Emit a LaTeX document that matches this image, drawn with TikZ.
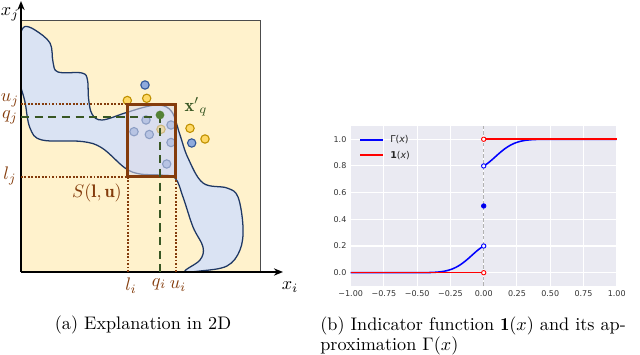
\documentclass[tikz,border=0pt]{standalone}
\usepackage{amsmath}
\usepackage{fontspec}
\newfontfamily\plotfont{DejaVu Sans}
\usepackage{tikz}
\usetikzlibrary{arrows.meta, positioning, calc}

\definecolor{bgyellow}{RGB}{255,242,204}
\definecolor{blobfill}{RGB}{218,227,243}
\definecolor{blobline}{RGB}{31,56,100}
\definecolor{sbrown}{RGB}{132,60,12}
\definecolor{qgreen}{RGB}{56,87,35}
\definecolor{ptgreen}{RGB}{84,130,53}
\definecolor{ptyellow}{RGB}{255,217,102}
\definecolor{ptyellowln}{RGB}{191,144,0}
\definecolor{ptblue}{RGB}{143,170,220}
\definecolor{ptblueln}{RGB}{47,85,151}
\definecolor{sbbg}{RGB}{234,234,242}
\definecolor{boxfill}{RGB}{218,218,234}

\begin{document}
\begin{tikzpicture}[
    x=0.55pt, y=-0.55pt,
    every node/.style={inner sep=0pt},
    axisln/.style={line width=1.1pt, -{Stealth[length=5pt,width=4pt]}},
    lbl/.style={font=\fontsize{10}{12}\selectfont},
    sbox/.style={draw=sbrown, line width=1.4pt, fill=boxfill, fill opacity=0.55, minimum width=26.4pt, minimum height=39.8pt},
    sdot/.style={sbrown, line width=1.1pt, dash pattern=on 1pt off 0.9pt},
    qdash/.style={qgreen, line width=1.2pt, dash pattern=on 4.5pt off 3pt},
    bpt/.style={circle, draw=ptblueln, fill=ptblue, line width=0.6pt, minimum size=4.6pt},
    ypt/.style={circle, draw=ptyellowln, fill=ptyellow, line width=0.6pt, minimum size=4.6pt},
    gpt/.style={circle, fill=ptgreen, minimum size=4.8pt},
    gridln/.style={white, line width=0.6pt},
    ticklbl/.style={font=\plotfont\fontsize{4.4}{5}\selectfont, text=black!80},
    leglbl/.style={font=\plotfont\fontsize{5.2}{6}\selectfont, text=black!85, anchor=west},
    curve/.style={line width=0.85pt},
    omark/.style={circle, fill=white, line width=0.5pt, minimum size=2.4pt},
    caption/.style={font=\fontsize{10}{11}\selectfont}
]
\useasboundingbox (0,0) rectangle (640,355);

% ===== (a) explanation in 2D =====
\fill[bgyellow, draw=black!70, line width=0.4pt] (21,20) rectangle (260,272);
\filldraw[fill=blobfill, draw=blobline, line width=0.7pt]
  plot[smooth, tension=0.6] coordinates {(21,32) (25,26.5) (35,30) (50,43) (53,62) (58,72) (82,73)
    (87.5,80) (88.5,98) (92,114) (102,120) (125,113) (145,107) (160,105) (172,112) (180,135)
    (188,158) (203,183) (227,188) (238,197) (243,227) (240,250) (227,266) (200,271) (185,271)
    (200,260) (203,247) (193,227) (183,197) (175,178) (160,175) (140,174) (125,168) (102,148)
    (82,141.5) (42,140) (30,128) (25,102) (21,88)} -- cycle;

% axes
\coordinate (O) at (21,272);
\coordinate (ytop) at (21,1);
\coordinate (xend) at (283,272);
\draw[axisln] (O) -- (ytop);
\draw[axisln] (O) -- (xend);

% points
\node[bpt] (b1) at (145,85) {};
\node[bpt] (b2) at (191.7,143) {};
\node[bpt] (b3) at (146,120) {};
\node[bpt] (b4) at (134,131.7) {};
\node[bpt] (b5) at (149.3,134.5) {};
\node[bpt] (b6) at (171,125) {};
\node[bpt] (b7) at (171,142.5) {};
\node[bpt] (b8) at (166.7,164) {};
\node[ypt] (y1) at (127.3,100.5) {};
\node[ypt] (y2) at (146.7,98.3) {};
\node[ypt] (y3) at (161,129.3) {};
\node[ypt] (y4) at (190,128.3) {};
\node[ypt] (y5) at (205,139) {};

% box S(l,u)
\coordinate (ujax) at (21,104.3);
\coordinate (ljax) at (21,176.7);
\coordinate (liax) at (127.7,272);
\coordinate (uiax) at (175.7,272);
\coordinate (qjax) at (21,117);
\coordinate (qiax) at (160,272);
\draw[sdot] (ujax) -- (127.7,104.3);
\draw[sdot] (ljax) -- (127.7,176.7);
\draw[sdot] (127.7,176.7) -- (liax);
\draw[sdot] (175.7,176.7) -- (uiax);
\node[sbox] (S) at (151.7,140.5) {};
\draw[qdash] (qjax) -| (qiax);
\node[gpt] (xq) at (160,115) {};

% labels
\node[lbl] (xjl) at (10,14) {$x_j$};
\node[lbl] (xil) at (290,287) {$x_i$};
\node[lbl, text=sbrown] (ujl) at (10,100) {$u_j$};
\node[lbl, text=sbrown] (qjl) at (10,117) {$q_j$};
\node[lbl, text=sbrown] (ljl) at (10,176) {$l_j$};
\node[lbl, text=sbrown] (Sl) at (97,193) {$S(\mathbf{l},\mathbf{u})$};
\node[lbl, text=sbrown] (lil) at (131,286) {$l_i$};
\node[lbl, text=sbrown] (qil) at (159,284) {$q_i$};
\node[lbl, text=sbrown] (uil) at (178,286) {$u_i$};
\node[lbl, text=qgreen] (xql) at (196,107) {$\mathbf{x}'{}_{q}$};

\node[caption] (capa) at (143,325) {(a) Explanation in 2D};

% ===== (b) indicator function =====
\begin{scope}[shift={(483.7,272.7)}, x=73.15pt, y=73.4pt]
\fill[sbbg] (-1,-0.1) rectangle (1,1.1);
\foreach \gx/\gl [count=\i] in {-1/−1.00,-0.75/−0.75,-0.5/−0.50,-0.25/−0.25,0/0.00,0.25/0.25,0.5/0.50,0.75/0.75,1/1.00} {
  \draw[gridln] (\gx,-0.1) -- (\gx,1.1);
  \node[ticklbl] (xt\i) at (\gx,-0.155) {\gl};
}
\foreach \gy [count=\i] in {0.0,0.2,0.4,0.6,0.8,1.0} {
  \draw[gridln] (-1,\gy) -- (1,\gy);
  \node[ticklbl, anchor=east] (yt\i) at (-1.03,\gy) {\gy};
}
\draw[black!30, line width=0.6pt, dash pattern=on 2pt off 1.2pt] (0,-0.1) -- (0,1.1);

\draw[curve, blue, domain=-0.6:0, samples=50] (-1,0) -- plot (\x,{0.2*exp(-23.5*\x*\x+2.75*\x)});
\draw[curve, blue, domain=0:0.6, samples=50] plot (\x,{1-0.2*exp(-23.5*\x*\x-2.75*\x)}) -- (1,1);
\draw[curve, red] (-1,0) -- (0,0);
\draw[curve, red] (0,1) -- (1,1);

\node[omark, draw=red] (m1) at (0,1) {};
\node[omark, draw=red] (m0) at (0,0) {};
\node[omark, draw=blue] (m8) at (0,0.8) {};
\node[omark, draw=blue] (m2) at (0,0.2) {};
\node[omark, draw=blue, fill=blue!85!black] (m5) at (0,0.5) {};

% legend
\coordinate (lg1a) at (-0.93,0.995);
\coordinate (lg1b) at (-0.76,0.995);
\coordinate (lg2a) at (-0.93,0.88);
\coordinate (lg2b) at (-0.76,0.88);
\draw[curve, blue] (lg1a) -- (lg1b);
\draw[curve, red] (lg2a) -- (lg2b);
\node[leglbl] (lgG) at (-0.705,0.995) {Γ(\textit{x})};
\node[leglbl] (lgI) at (-0.705,0.88) {\textbf{1}(\textit{x})};
\end{scope}

\node[caption, anchor=north west, align=left] (capb) at (320,317)
  {(b) Indicator function $\mathbf{1}(x)$ and its ap-\\proximation $\Gamma(x)$};

\end{tikzpicture}
\end{document}
